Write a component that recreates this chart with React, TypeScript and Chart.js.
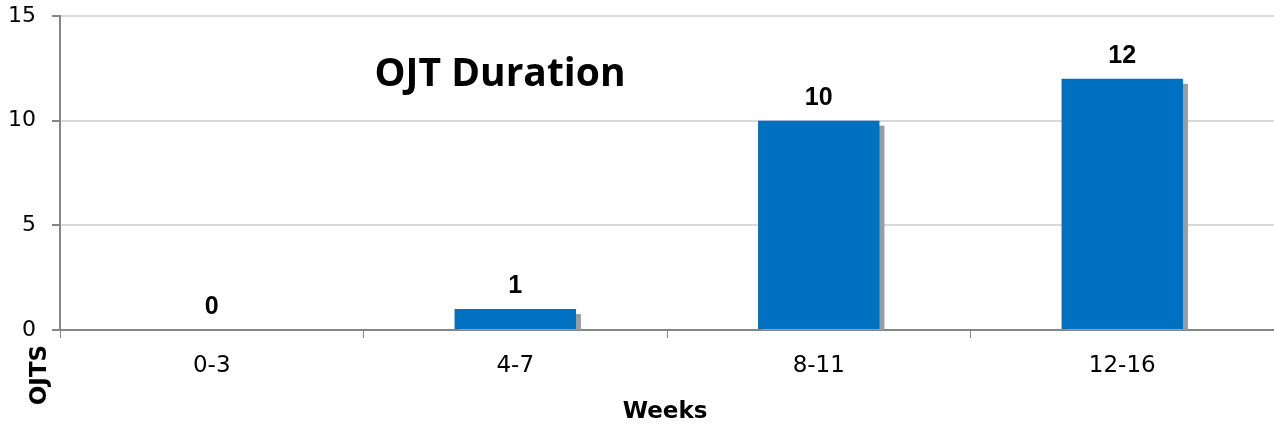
import React, { useEffect, useRef } from "react";
import { Chart, registerables } from "chart.js";

Chart.register(...registerables);

const categories = ["0-3", "4-7", "8-11", "12-16"];
const ojts = [0, 1, 10, 12];
const yTickValues = [0, 5, 10, 15];
const chartTitle = "OJT Duration";
const xTitle = "Weeks";
const yTitle = "OJTS";

const TICK_FONT = "'DejaVu Sans', sans-serif";

const shadowPlugin = {
  id: "barShadow",
  beforeDatasetsDraw(chart: any) {
    const ctx = chart.ctx;
    const area = chart.chartArea;
    ctx.save();
    ctx.beginPath();
    ctx.rect(area.left, area.top, area.right - area.left, area.bottom - area.top);
    ctx.clip();
    ctx.fillStyle = "#9C9C9C";
    chart.getDatasetMeta(0).data.forEach((bar: any) => {
      const p = bar.getProps(["x", "y", "base", "width"], true);
      ctx.fillRect(p.x - p.width / 2 + 5, p.y + 5, p.width, p.base - p.y);
    });
    ctx.restore();
  },
};

const labelsPlugin = {
  id: "extraText",
  afterDatasetsDraw(chart: any) {
    const ctx = chart.ctx;
    ctx.save();
    ctx.fillStyle = "#000";
    ctx.textAlign = "center";
    ctx.textBaseline = "middle";
    ctx.font = "bold 25px 'Liberation Sans', sans-serif";
    const meta = chart.getDatasetMeta(0);
    meta.data.forEach((bar: any, i: number) => {
      const p = bar.getProps(["x", "y"], true);
      ctx.fillText(String(ojts[i]), p.x, p.y - 23);
    });
    // chart title inside plot
    ctx.font = "bold 39px 'Open Sans', sans-serif";
    ctx.fillText(chartTitle, 500, 75);
    // x axis title
    ctx.font = `bold 23px ${TICK_FONT}`;
    ctx.fillText(xTitle, 665, 412);
    // y axis title rotated
    ctx.translate(40, 375);
    ctx.rotate(-Math.PI / 2);
    ctx.fillText(yTitle, 0, 0);
    ctx.restore();
  },
};

export default function App() {
  const ref = useRef<HTMLCanvasElement>(null);
  useEffect(() => {
    if (!ref.current) return;
    const chart = new Chart(ref.current, {
      type: "bar",
      data: {
        labels: categories,
        datasets: [
          {
            data: ojts,
            backgroundColor: "#0070C0",
            borderWidth: 0,
            barPercentage: 0.4,
            categoryPercentage: 1,
          },
        ],
      },
      options: {
        animation: false,
        responsive: false,
        layout: { padding: { top: 16, right: 0, left: 0, bottom: 0 } },
        plugins: {
          legend: { display: false },
          tooltip: { enabled: false },
          title: { display: false },
        },
        scales: {
          x: {
            offset: true,
            grid: {
              display: true,
              drawOnChartArea: false,
              tickLength: 8,
              tickColor: "#868686",
              offset: true,
            },
            border: { color: "#868686", width: 2 },
            ticks: {
              color: "#000",
              font: { family: TICK_FONT, size: 23 },
              padding: 14,
            },
            afterFit(scale: any) {
              scale.height = 100;
              scale.paddingLeft = 0;
              scale.paddingRight = 0;
            },
          },
          y: {
            min: 0,
            max: 15,
            afterBuildTicks(scale: any) {
              scale.ticks = yTickValues.map((v) => ({ value: v }));
            },
            grid: {
              color: "#D9D9D9",
              lineWidth: 2,
              tickLength: 8,
              tickColor: "#868686",
            },
            border: { color: "#868686", width: 2 },
            ticks: {
              color: "#000",
              font: { family: TICK_FONT, size: 22 },
              padding: 16,
            },
            afterFit(scale: any) {
              scale.width = 60;
              scale.paddingTop = 0;
              scale.paddingBottom = 0;
            },
          },
        },
      },
      plugins: [shadowPlugin, labelsPlugin],
    });
    return () => chart.destroy();
  }, []);
  return (
    <div style={{ position: "fixed", left: 0, top: 0, width: 1274, height: 430, background: "#fff" }}>
      <canvas ref={ref} width={1274} height={430} style={{ width: 1274, height: 430 }} />
    </div>
  );
}
